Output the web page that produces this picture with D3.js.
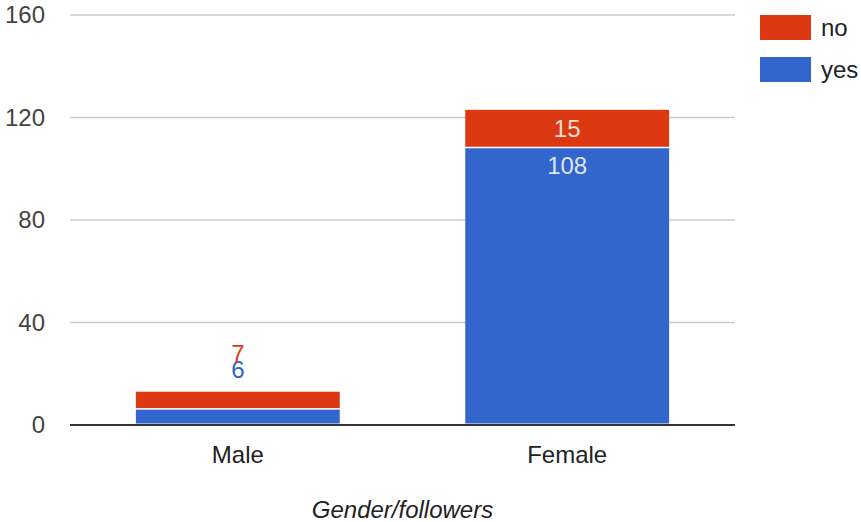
<!DOCTYPE html>
<html>
<head>
<meta charset="utf-8">
<script src="https://cdn.jsdelivr.net/npm/d3@7"></script>
<style>
  body { margin: 0; background: #fff; }
  text { font-family: "Liberation Sans", Arial, sans-serif; }
</style>
</head>
<body>
<div id="chart"></div>
<script>
// chart data
var categories = ['Male', 'Female'];
var seriesNames = ['yes', 'no'];
var yesValues = [6, 108];
var noValues = [7, 15];
var yTicks = [0, 40, 80, 120, 160];
var colors = { yes: '#3366cc', no: '#dc3912' };

var width = 861, height = 522;
var margin = { top: 15, left: 70, bottom: 97, right: 126 };
var g_width = width - margin.left - margin.right;
var g_height = height - margin.top - margin.bottom;
var fontSize = '24px';

var svg = d3.select('#chart').append('svg')
  .attr('width', width)
  .attr('height', height);

var g = svg.append('g')
  .attr('transform', 'translate(' + margin.left + ',' + margin.top + ')');

var xScale = d3.scaleBand()
  .domain(categories)
  .range([0, g_width])
  .paddingInner(0.381)
  .paddingOuter(0.2);

var yScale = d3.scaleLinear()
  .domain([0, 160])
  .range([g_height, 0]);

// gridlines
g.selectAll('.grid')
  .data(yTicks.slice(1))
  .enter().append('line')
  .attr('class', 'grid')
  .attr('x1', 0).attr('x2', g_width)
  .attr('y1', function (d) { return yScale(d); })
  .attr('y2', function (d) { return yScale(d); })
  .attr('stroke', '#cccccc')
  .attr('stroke-width', 1.5);

var yAxis = d3.axisLeft(yScale).tickValues(yTicks).tickSize(0).tickPadding(25);
var yg = g.append('g').call(yAxis);
yg.select('.domain').remove();
yg.selectAll('text')
  .attr('fill', '#444')
  .style('font-size', fontSize);

// stacked data
var rows = categories.map(function (c, i) { return { cat: c, yes: yesValues[i], no: noValues[i] }; });
var stack = d3.stack().keys(seriesNames)(rows);

var layers = g.selectAll('.layer')
  .data(stack)
  .enter().append('g')
  .attr('class', 'layer')
  .attr('fill', function (d) { return colors[d.key]; });

layers.selectAll('rect')
  .data(function (d) { return d; })
  .enter().append('rect')
  .attr('x', function (d) { return xScale(d.data.cat); })
  .attr('width', xScale.bandwidth())
  .attr('y', function (d) { return yScale(d[1]); })
  .attr('height', function (d) { return yScale(d[0]) - yScale(d[1]) - 1.5; })
  .attr('stroke', 'none');

// value labels
stack.forEach(function (layer) {
  layer.forEach(function (d) {
    var top = yScale(d[1]);
    var h = yScale(d[0]) - top;
    var cx = xScale(d.data.cat) + xScale.bandwidth() / 2;
    var val = d[1] - d[0];
    var inside = h > 30;
    var y;
    if (inside) {
      y = layer.key === 'no' ? top + h / 2 + 8 : top + 26;
    } else {
      var barTop = yScale(d.data.yes + d.data.no);
      y = layer.key === 'no' ? barTop - 30 : barTop - 14;
    }
    g.append('text')
      .attr('x', cx)
      .attr('y', y)
      .attr('text-anchor', 'middle')
      .style('font-size', fontSize)
      .attr('fill', inside ? '#ffffff' : colors[layer.key])
      .attr('fill-opacity', inside ? 0.85 : 1)
      .text(val);
  });
});

// baseline
g.append('line')
  .attr('x1', 0).attr('x2', g_width)
  .attr('y1', g_height).attr('y2', g_height)
  .attr('stroke', '#333')
  .attr('stroke-width', 2);

// x axis labels
g.selectAll('.xlabel')
  .data(categories)
  .enter().append('text')
  .attr('class', 'xlabel')
  .attr('x', function (d) { return xScale(d) + xScale.bandwidth() / 2; })
  .attr('y', g_height + 38)
  .attr('text-anchor', 'middle')
  .attr('fill', '#222')
  .style('font-size', fontSize)
  .text(function (d) { return d; });

g.append('text')
  .attr('x', g_width / 2)
  .attr('y', g_height + 93)
  .attr('text-anchor', 'middle')
  .attr('fill', '#222')
  .style('font-size', fontSize)
  .style('font-style', 'italic')
  .text('Gender/followers');

// legend
var legendKeys = ['no', 'yes'];
var legend = svg.selectAll('.legend')
  .data(legendKeys)
  .enter().append('g')
  .attr('class', 'legend')
  .attr('transform', function (d, i) { return 'translate(760,' + (15 + i * 42) + ')'; });

legend.append('rect')
  .attr('width', 51)
  .attr('height', 25)
  .attr('fill', function (d) { return colors[d]; });

legend.append('text')
  .attr('x', 61)
  .attr('y', 21)
  .attr('fill', '#222')
  .style('font-size', fontSize)
  .text(function (d) { return d; });
</script>
</body>
</html>
